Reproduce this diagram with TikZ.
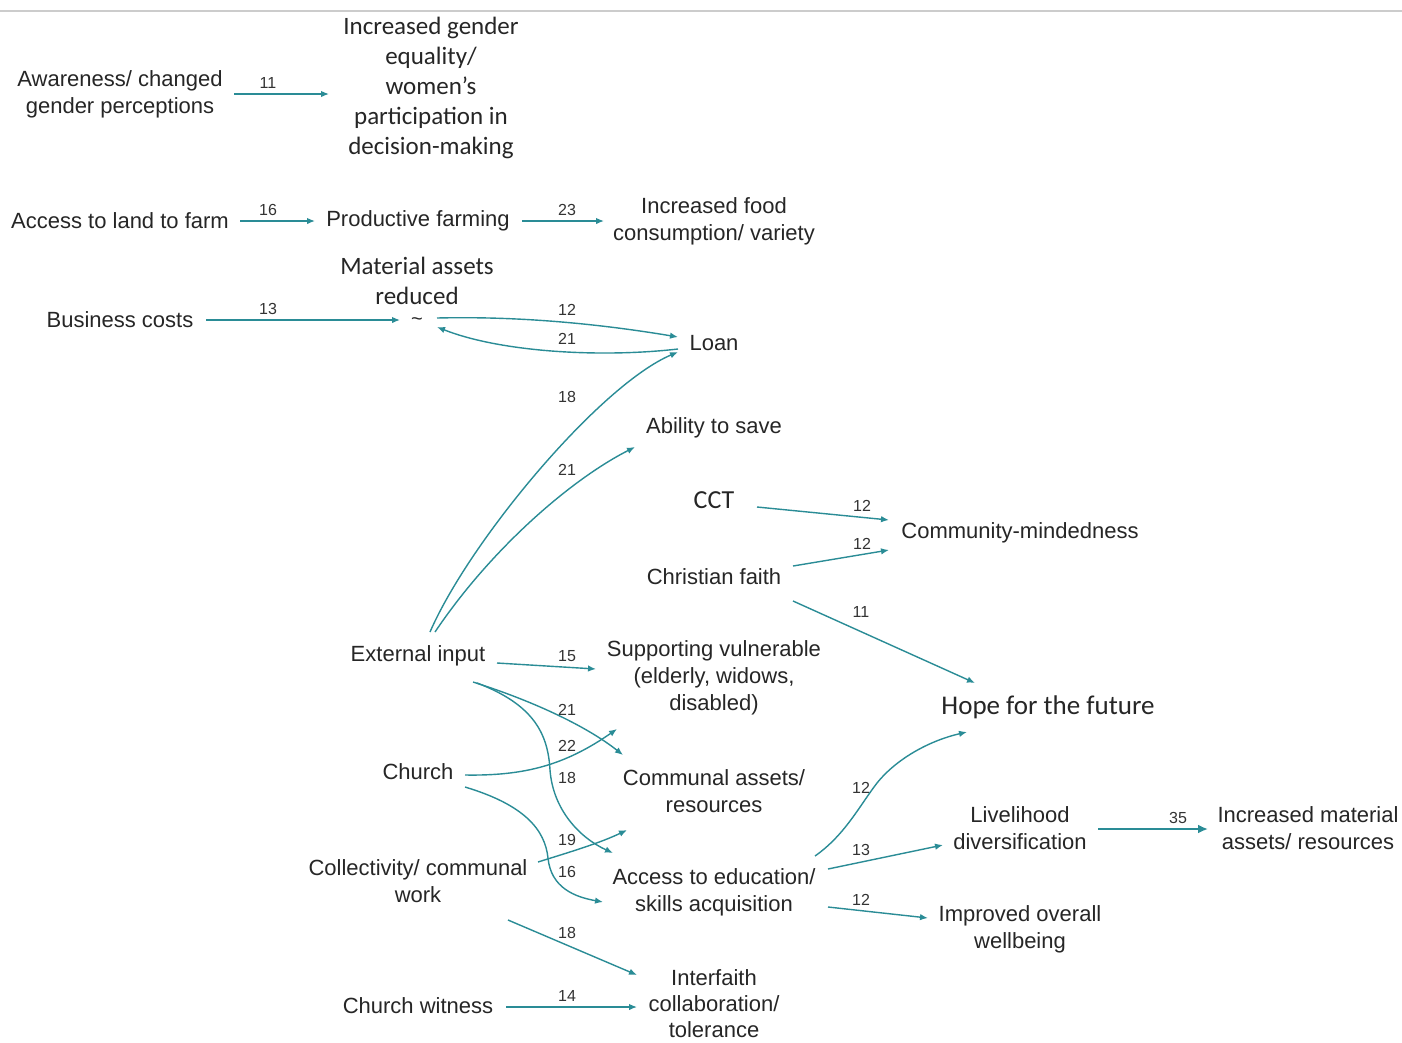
\documentclass[tikz,border=0pt]{standalone}
\usepackage{fontspec}
\newfontfamily\lsans{Liberation Sans}
\newfontfamily\calib{Carlito}
\usetikzlibrary{arrows.meta,calc}
\definecolor{tealc}{RGB}{42,140,150}
\tikzset{
  lbl/.style={font=\lsans\fontsize{22}{27}\selectfont, align=center, inner sep=0pt, text=black!85},
  clbl/.style={font=\calib\fontsize{25}{30}\selectfont, align=center, inner sep=0pt, text=black!85},
  num/.style={font=\lsans\fontsize{16}{18}\selectfont, inner sep=0pt, text=black!80},
  arr/.style={draw=tealc, line width=1.4pt, -{Latex[length=8pt,width=6.5pt]}},
  thickarr/.style={draw=tealc, line width=2.4pt, -{Latex[length=10pt,width=9pt]}}
}
\begin{document}
\begin{tikzpicture}[x=1pt,y=-1pt]
\useasboundingbox (0,0) rectangle (1402,1042);
\fill[white] (0,0) rectangle (1402,1042);
\draw[black!20, line width=1.2pt] (0,11) -- (1402,11);

% nodes
\node[lbl] (aware) at (120,94) {Awareness/ changed\\gender perceptions};
\node[clbl] (gender) at (431,88) {Increased gender\\equality/\\women’s\\participation in\\decision-making};
\node[lbl] (land) at (120,221) {Access to land to farm};
\node[lbl] (farming) at (418,221) {Productive farming};
\node[lbl] (food) at (714,221) {Increased food\\consumption/ variety};
\node[clbl] (matas) at (417,281) {Material assets\\reduced};
\node[lbl, font=\lsans\fontsize{20}{20}\selectfont] (tilde) at (417,322) {\textasciitilde};
\node[lbl] (business) at (120,320) {Business costs};
\node[lbl] (loan) at (714,343) {Loan};
\node[lbl] (save) at (714,428) {Ability to save};
\node[clbl, font=\calib\fontsize{26}{30}\selectfont] (cct) at (714,500) {CCT};
\node[lbl] (community) at (1020,533) {Community-mindedness};
\node[lbl] (faith) at (714,577) {Christian faith};
\node[lbl] (external) at (418,656) {External input};
\node[lbl] (vulnerable) at (714,678) {Supporting vulnerable\\(elderly, widows,\\disabled)};
\node[clbl, font=\calib\fontsize{27}{30}\selectfont] (hope) at (1048,707) {Hope for the future};
\node[lbl] (church) at (418,772) {Church};
\node[lbl] (communal) at (714,791) {Communal assets/\\resources};
\node[lbl] (livelihood) at (1020,828) {Livelihood\\diversification};
\node[lbl] (material) at (1308,828) {Increased material\\assets/ resources};
\node[lbl] (collect) at (418,881) {Collectivity/ communal\\work};
\node[lbl] (education) at (714,892) {Access to education/\\skills acquisition};
\node[lbl] (wellbeing) at (1020,929) {Improved overall\\wellbeing};
\node[lbl] (witness) at (418,1006) {Church witness};
\node[lbl, font=\lsans\fontsize{22}{26}\selectfont] (interfaith) at (714,1004) {Interfaith\\collaboration/\\tolerance};

% connectors
\draw[arr] ($(aware)+(114,0)$) -- ($(gender)+(-102,6)$);
\draw[arr] ($(land)+(120,0)$) -- ($(farming)+(-103,0)$);
\draw[arr] ($(farming)+(104,0)$) -- ($(food)+(-110,0)$);
\draw[arr] ($(business)+(86,0)$) -- ($(tilde)+(-17,-2)$);
\draw[arr] ($(tilde)+(20,-4)$) .. controls (520,316) and (600,324) .. ($(loan)+(-36,-6)$);
\draw[arr] ($(loan)+(-36,6)$) .. controls (600,358) and (500,352) .. ($(tilde)+(20,5)$);
\draw[arr] ($(external)+(12,-24)$) .. controls (470,540) and (600,385) .. ($(loan)+(-36,9)$);
\draw[arr] ($(external)+(17,-24)$) .. controls (490,550) and (570,480) .. ($(save)+(-79,19)$);
\draw[arr] ($(cct)+(43,7)$) -- ($(community)+(-131,-13)$);
\draw[arr] ($(faith)+(79,-11)$) -- ($(community)+(-131,17)$);
\draw[arr] ($(faith)+(79,24)$) -- ($(hope)+(-73,-24)$);
\draw[arr] ($(external)+(79,7)$) -- ($(vulnerable)+(-118,-9)$);
\draw[arr] ($(external)+(55,26)$) .. controls (530,700) and (585,725) .. ($(communal)+(-91,-36)$);
\draw[arr] ($(external)+(59,27)$) .. controls (535,705) and (548,735) .. (550,770) .. controls (553,810) and (580,838) .. ($(education)+(-101,-39)$);
\draw[arr] ($(church)+(47,3)$) .. controls (525,776) and (565,765) .. ($(vulnerable)+(-97,51)$);
\draw[arr] ($(church)+(47,15)$) .. controls (525,805) and (545,830) .. (548,858) .. controls (551,888) and (575,897) .. ($(education)+(-111,10)$);
\draw[arr] ($(collect)+(120,-19)$) .. controls (570,852) and (600,843) .. ($(communal)+(-87,39)$);
\draw[arr] ($(collect)+(90,39)$) -- ($(interfaith)+(-77,-29)$);
\draw[arr] ($(witness)+(88,1)$) -- ($(interfaith)+(-77,3)$);
\draw[arr] ($(education)+(101,-36)$) .. controls (845,835) and (860,805) .. (877,783) .. controls (898,757) and (932,740) .. ($(hope)+(-81,25)$);
\draw[arr] ($(education)+(114,-23)$) -- ($(livelihood)+(-77,17)$);
\draw[arr] ($(education)+(114,15)$) -- ($(wellbeing)+(-92,-11)$);
\draw[thickarr] ($(livelihood)+(78,1)$) -- ($(material)+(-100,1)$);

% connector labels
\node[num] (l1) at (268,83) {11};
\node[num] (l2) at (268,210) {16};
\node[num] (l3) at (567,210) {23};
\node[num] (l4) at (268,309) {13};
\node[num] (l5) at (567,310) {12};
\node[num] (l6) at (567,339) {21};
\node[num] (l7) at (567,397) {18};
\node[num] (l8) at (567,470) {21};
\node[num] (l9) at (862,506) {12};
\node[num] (l10) at (862,544) {12};
\node[num] (l11) at (861,612) {11};
\node[num] (l12) at (567,656) {15};
\node[num] (l13) at (567,710) {21};
\node[num] (l14) at (567,746) {22};
\node[num] (l15) at (567,778) {18};
\node[num] (l16) at (861,788) {12};
\node[num] (l17) at (1178,818) {35};
\node[num] (l18) at (567,840) {19};
\node[num] (l19) at (861,850) {13};
\node[num] (l20) at (567,872) {16};
\node[num] (l21) at (861,900) {12};
\node[num] (l22) at (567,933) {18};
\node[num] (l23) at (567,996) {14};
\end{tikzpicture}
\end{document}
